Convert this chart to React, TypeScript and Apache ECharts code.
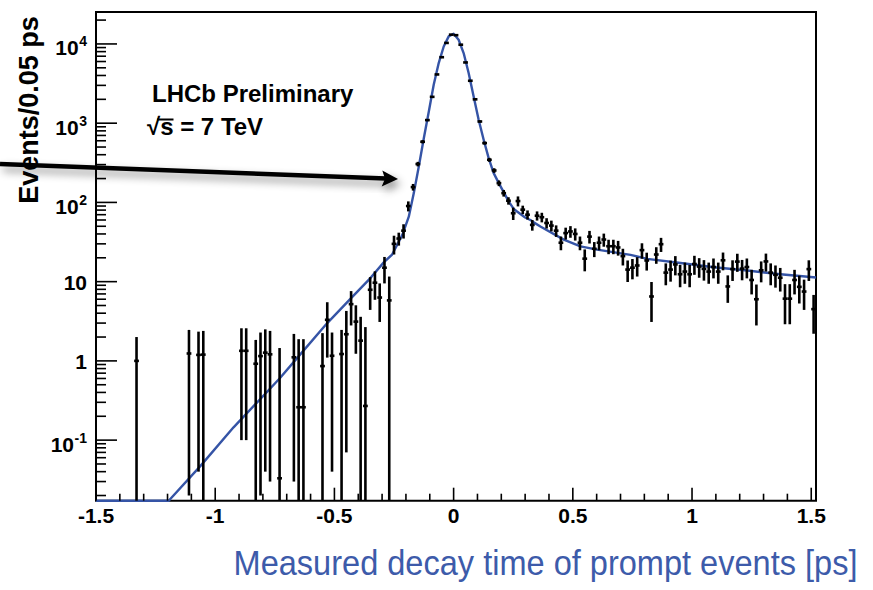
import React, { useEffect, useRef } from "react";
import * as echarts from "echarts";

// Axis ranges of the decay-time histogram
const X_MIN = -1.5;
const X_MAX = 1.52;
const Y_MIN = 0.0172;
const Y_MAX = 25300;
const BIN_WIDTH = 0.02;

// Non-empty bins: bin centre [ps], weighted content, uncertainty
const binTimes = [
  -1.33, -1.11, -1.07, -1.05, -0.89, -0.87, -0.83, -0.81, -0.79, -0.77, -0.73, -0.67, -0.65, -0.63,
  -0.55, -0.53, -0.51, -0.47, -0.45, -0.43, -0.41, -0.39, -0.37, -0.35, -0.33, -0.31, -0.29, -0.27,
  -0.25, -0.23, -0.21, -0.19, -0.17, -0.15, -0.13, -0.11, -0.09, -0.07, -0.05, -0.03, -0.01,
  0.01, 0.03, 0.05, 0.07, 0.09, 0.11, 0.13, 0.15, 0.17, 0.19, 0.21, 0.23, 0.25, 0.27, 0.29, 0.31,
  0.33, 0.35, 0.37, 0.39, 0.41, 0.43, 0.45, 0.47, 0.49, 0.51, 0.53, 0.55, 0.57, 0.59, 0.61, 0.63,
  0.65, 0.67, 0.69, 0.71, 0.73, 0.75, 0.77, 0.79, 0.81, 0.83, 0.85, 0.87, 0.89, 0.91, 0.93, 0.95,
  0.97, 0.99, 1.01, 1.03, 1.05, 1.07, 1.09, 1.11, 1.13, 1.15, 1.17, 1.19, 1.21, 1.23, 1.25, 1.27,
  1.29, 1.31, 1.33, 1.35, 1.37, 1.39, 1.41, 1.43, 1.45, 1.47, 1.49, 1.51,
];
const binCounts = [
  1.0, 1.24, 1.19, 1.2, 1.34, 1.34, 0.92, 1.15, 1.27, 1.21, 0.033, 1.11, 0.26, 0.26,
  0.86, 3.3, 1.16, 1.22, 2.17, 5.2, 3.13, 1.8, 0.27, 7.9, 9.7, 6.3, 15, 5.8,
  30, 35, 44, 90, 156, 305, 583, 1094, 2150, 4120, 6800, 10300, 13100,
  12900, 9780, 5840, 3430, 2000, 1050, 561, 345, 253, 175, 131, 105, 73, 104, 81, 70,
  52, 68, 65, 55, 51, 44, 31, 41, 43, 40, 31, 19.5, 37, 26, 31, 34,
  28, 28, 27, 21, 14.2, 15, 16, 25, 18.5, 6.5, 22, 29.7, 13, 14.2, 16.5, 12.4,
  13.4, 12.4, 16.7, 15.5, 14.5, 13.4, 15.3, 13.4, 18.6, 8.7, 14.4, 17.9, 14.6, 15.3, 10.5, 6.0,
  13.9, 18, 13, 12.2, 11.2, 6.1, 6.1, 10.5, 8.6, 7.5, 14.4, 4.5,
];
const binErrors = [
  1.0, 1.22, 1.15, 1.19, 1.24, 1.24, 0.92, 1.13, 1.23, 1.18, 1.42, 1.08, 1.62, 1.62,
  1.38, 2.2, 1.12, 1.24, 2.1, 2.4, 1.9, 1.8, 2.4, 3.5, 3.8, 3.2, 5.5, 5.8,
  8, 6.5, 9, 13, 15, 20, 28, 35, 50, 68, 85, 105, 118,
  115, 100, 80, 60, 47, 34, 25, 20, 17, 14.5, 12.6, 11.3, 13, 15, 10, 9.2,
  8, 9, 9, 8.2, 7.9, 7.3, 6.1, 7, 7.2, 7, 6.1, 6, 6.7, 5.6, 6.1, 6.4,
  5.8, 5.8, 5.7, 5, 4.3, 4.3, 4.4, 5.5, 4.7, 3.4, 5.2, 6, 4, 4.2, 4.5, 3.9,
  4, 3.9, 4.5, 4.3, 4.2, 4, 4.3, 4, 4.7, 3.3, 4.2, 4.6, 4.2, 4.3, 3.6, 3.2,
  4.1, 4.6, 4, 3.8, 3.7, 3.2, 3.2, 3.6, 3.3, 3.1, 4.2, 2.3,
];

// Fitted decay-time model, sampled along the curve
const fitTimes = [
  -1.5, -1.195, -1.0625, -0.923, -0.73, -0.644, -0.53, -0.43, -0.349, -0.293, -0.258,
  -0.237, -0.215, -0.188, -0.167, -0.146, -0.125, -0.104, -0.0835, -0.0625, -0.0415, -0.0206,
  0, 0.021, 0.042, 0.063, 0.084, 0.105, 0.126, 0.147, 0.168, 0.19, 0.231, 0.252, 0.266,
  0.3, 0.322, 0.336, 0.364, 0.462, 0.532, 0.602, 0.742, 0.812, 0.952, 1.092, 1.232, 1.371, 1.52,
];
const fitValues = [
  0.0017, 0.0172, 0.047, 0.145, 0.6, 1.2, 3.0, 6.2, 11.1, 17.5, 22,
  29, 39, 66, 131, 284, 646, 1406, 3055, 5740, 9290, 12450,
  13460, 11300, 7670, 4300, 2170, 1104, 617, 362, 234, 174, 103, 83, 76.7,
  64.5, 60, 56, 49.7, 33.9, 27.9, 25.4, 21.8, 19.4, 17.2, 15.2, 13.8, 12.4, 11.3,
];

// Axis ticks
const xMajorTicks = [-1.5, -1, -0.5, 0, 0.5, 1, 1.5];
const xMinorTicks = [
  -1.4, -1.3, -1.2, -1.1, -0.9, -0.8, -0.7, -0.6, -0.4, -0.3, -0.2, -0.1,
  0.1, 0.2, 0.3, 0.4, 0.6, 0.7, 0.8, 0.9, 1.1, 1.2, 1.3, 1.4,
];
const yMajorTicks = [0.1, 1, 10, 100, 1000, 10000];
const yLabelBase = ["10", "1", "10", "10", "10", "10"];
const yLabelExp = ["-1", "", "", "2", "3", "4"];
const yMinorMantissas = [2, 3, 4, 5, 6, 7, 8, 9];
const yDecades = [0.01, 0.1, 1, 10, 100, 1000, 10000];

const FONT = "Liberation Sans";
const FIT_BLUE = "#3554a6";
const TITLE_BLUE = "#3d5baa";
const LABEL_FONT = `bold 21px "${FONT}"`;
const EXP_FONT = `bold 14px "${FONT}"`;

function textWidth(text: string, font: string): number {
  const ctx = document.createElement("canvas").getContext("2d");
  if (!ctx) return text.length * 8;
  ctx.font = font;
  return ctx.measureText(text).width;
}

export default function App() {
  const ref = useRef<HTMLDivElement>(null);

  useEffect(() => {
    if (!ref.current) return;
    const chart = echarts.init(ref.current, null, { renderer: "svg" });

    const yMinorTicks: number[] = [];
    yDecades.forEach((d) =>
      yMinorMantissas.forEach((m) => {
        const v = m * d;
        if (v > Y_MIN && v < Y_MAX) yMinorTicks.push(v);
      })
    );
    const expWidths = yLabelExp.map((e) => (e ? textWidth(e, EXP_FONT) : 0));

    const tickStyle = { stroke: "#000", lineWidth: 1.6 };

    const option: any = {
      animation: false,
      backgroundColor: "#fff",
      textStyle: { fontFamily: FONT },
      grid: {
        left: 96,
        right: 57,
        top: 12,
        bottom: 89.3,
        show: true,
        borderColor: "#000",
        borderWidth: 2,
        backgroundColor: "transparent",
      },
      xAxis: {
        type: "value",
        min: X_MIN,
        max: X_MAX,
        interval: 0.5,
        axisLine: { show: false },
        axisTick: { show: false },
        splitLine: { show: false },
        axisLabel: {
          color: "#000",
          fontFamily: FONT,
          fontWeight: "bold",
          fontSize: 21,
          margin: 4,
          formatter: (v: number) => (Math.abs(v * 2 - Math.round(v * 2)) < 1e-6 ? String(v) : ""),
        },
      },
      yAxis: {
        type: "log",
        logBase: 10,
        min: Y_MIN,
        max: Y_MAX,
        axisLine: { show: false },
        axisTick: { show: false },
        axisLabel: { show: false },
        splitLine: { show: false },
      },
      series: [
        {
          name: "fit",
          type: "line",
          data: fitTimes.map((t, i) => [t, Math.max(fitValues[i], Y_MIN)]),
          showSymbol: false,
          smooth: false,
          clip: false,
          z: 3,
          lineStyle: { color: FIT_BLUE, width: 2.4, join: "round" },
        },
        {
          name: "data",
          type: "custom",
          coordinateSystem: "cartesian2d",
          clip: false,
          z: 4,
          encode: { x: 0, y: 1 },
          data: binTimes.map((t, i) => [t, binCounts[i], binErrors[i]]),
          renderItem: (_p: any, api: any) => {
            const t = api.value(0);
            const v = api.value(1);
            const e = api.value(2);
            const lo = Math.max(v - e, Y_MIN);
            const hi = Math.min(v + e, Y_MAX);
            const c = api.coord([t, v]);
            const cLo = api.coord([t, lo]);
            const cHi = api.coord([t, hi]);
            const cL = api.coord([t - BIN_WIDTH / 2, v]);
            const cR = api.coord([t + BIN_WIDTH / 2, v]);
            const st = { stroke: "#000", lineWidth: 2.6 };
            return {
              type: "group",
              children: [
                { type: "line", shape: { x1: c[0], y1: cLo[1], x2: c[0], y2: cHi[1] }, style: st },
                { type: "line", shape: { x1: cL[0], y1: c[1], x2: cR[0], y2: c[1] }, style: st },
              ],
            };
          },
        },
        {
          name: "xTicks",
          type: "custom",
          coordinateSystem: "cartesian2d",
          clip: false,
          z: 5,
          silent: true,
          data: [
            ...xMajorTicks.map((t) => [t, Y_MIN, 1]),
            ...xMinorTicks.map((t) => [t, Y_MIN, 0]),
          ],
          renderItem: (_p: any, api: any) => {
            const c = api.coord([api.value(0), api.value(1)]);
            const len = api.value(2) === 1 ? 13 : 7;
            return { type: "line", shape: { x1: c[0], y1: c[1], x2: c[0], y2: c[1] - len }, style: tickStyle };
          },
        },
        {
          name: "yMinorTicks",
          type: "custom",
          coordinateSystem: "cartesian2d",
          clip: false,
          z: 5,
          silent: true,
          data: yMinorTicks.map((v) => [X_MIN, v]),
          renderItem: (_p: any, api: any) => {
            const c = api.coord([api.value(0), api.value(1)]);
            return { type: "line", shape: { x1: c[0], y1: c[1], x2: c[0] + 10, y2: c[1] }, style: tickStyle };
          },
        },
        {
          name: "yMajorTicks",
          type: "custom",
          coordinateSystem: "cartesian2d",
          clip: false,
          z: 5,
          silent: true,
          data: yMajorTicks.map((v) => [X_MIN, v]),
          renderItem: (p: any, api: any) => {
            const c = api.coord([api.value(0), api.value(1)]);
            const i = p.dataIndex;
            const exp = yLabelExp[i];
            const right = c[0] - 9;
            const children: any[] = [
              { type: "line", shape: { x1: c[0], y1: c[1], x2: c[0] + 21, y2: c[1] }, style: tickStyle },
            ];
            if (exp) {
              const split = right - expWidths[i];
              children.push({
                type: "text",
                x: split - 0.5,
                y: c[1] + 4,
                style: { text: yLabelBase[i], font: LABEL_FONT, fill: "#000", align: "right", verticalAlign: "middle" },
              });
              children.push({
                type: "text",
                x: split,
                y: c[1] - 2.5,
                style: { text: exp, font: EXP_FONT, fill: "#000", align: "left", verticalAlign: "middle" },
              });
            } else {
              children.push({
                type: "text",
                x: right,
                y: c[1] + 1,
                style: { text: yLabelBase[i], font: LABEL_FONT, fill: "#000", align: "right", verticalAlign: "middle" },
              });
            }
            return { type: "group", children };
          },
        },
      ],
      graphic: [
        {
          type: "text",
          x: 29,
          y: 110,
          rotation: Math.PI / 2,
          style: {
            text: "Events/0.05 ps",
            font: `bold 27px "${FONT}"`,
            fill: "#000",
            align: "center",
            verticalAlign: "middle",
          },
        },
        {
          type: "text",
          x: 152,
          y: 93.6,
          style: {
            text: "LHCb Preliminary",
            font: `bold 24px "${FONT}"`,
            fill: "#000",
            align: "left",
            verticalAlign: "middle",
          },
        },
        {
          type: "text",
          x: 147,
          y: 126.6,
          style: {
            text: "\u221As = 7 TeV",
            font: `bold 24px "${FONT}"`,
            fill: "#000",
            align: "left",
            verticalAlign: "middle",
          },
        },
        {
          type: "line",
          shape: { x1: 157, y1: 119.5, x2: 173.5, y2: 119.5 },
          style: { stroke: "#000", lineWidth: 2 },
        },
        {
          type: "group",
          z: 100,
          children: [
            {
              type: "line",
              shape: { x1: 0, y1: 164, x2: 386, y2: 178.4 },
              style: {
                stroke: "#000",
                lineWidth: 4.5,
                shadowBlur: 8,
                shadowColor: "rgba(0,0,0,0.45)",
                shadowOffsetX: 3,
                shadowOffsetY: 5,
              },
            },
            {
              type: "polygon",
              shape: { points: [[398, 179], [381.7, 186.4], [385, 178.7], [382.3, 170.4]] },
              style: {
                fill: "#000",
                shadowBlur: 8,
                shadowColor: "rgba(0,0,0,0.45)",
                shadowOffsetX: 3,
                shadowOffsetY: 5,
              },
            },
          ],
        },
        {
          type: "text",
          x: 545.5,
          y: 563,
          scaleX: 0.93,
          style: {
            text: "Measured decay time of prompt events [ps]",
            font: `35px "${FONT}"`,
            fill: TITLE_BLUE,
            align: "center",
            verticalAlign: "middle",
          },
        },
      ],
    };

    chart.setOption(option);
    return () => chart.dispose();
  }, []);

  return (
    <div
      ref={ref}
      style={{ position: "fixed", left: 0, top: 0, width: 873, height: 590, background: "#fff" }}
    />
  );
}
